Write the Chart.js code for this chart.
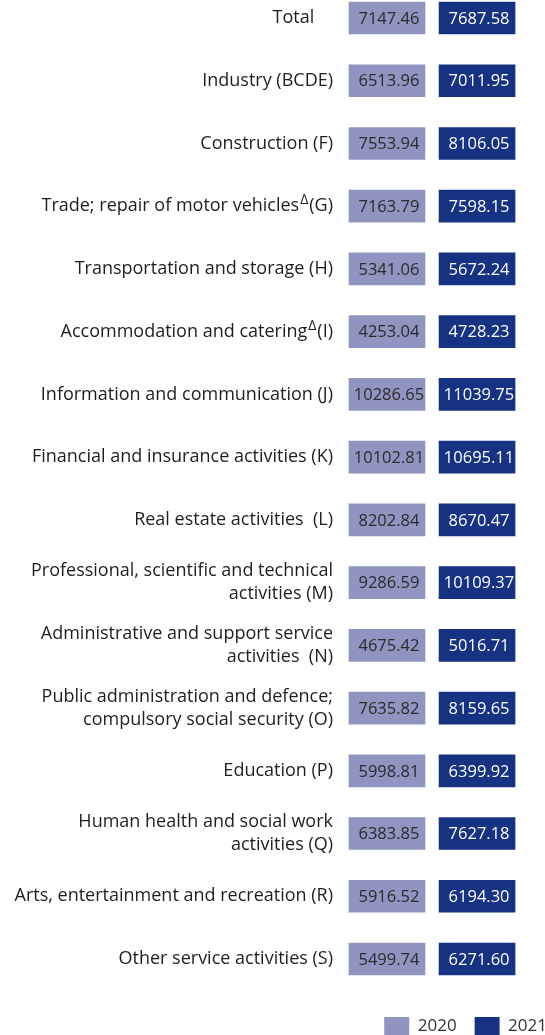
<!DOCTYPE html>
<html>
<head>
<meta charset="utf-8">
<title>Average monthly wages by sector</title>
<script src="https://cdn.jsdelivr.net/npm/chart.js@4.4.1/dist/chart.umd.min.js"></script>
<style>
  html, body { margin: 0; padding: 0; background: #fff; }
  #wrap { width: 545px; height: 1035px; position: relative; }
</style>
</head>
<body>
<div id="wrap"><canvas id="chart"></canvas></div>
<script>
// Kategorien (Zeilenumbrüche wie im Original)
const categories = [
  ['Total    '],
  ['Industry (BCDE)'],
  ['Construction (F)'],
  ['Trade; repair of motor vehicles\u0394(G)'],
  ['Transportation and storage (H)'],
  ['Accommodation and catering\u0394(I)'],
  ['Information and communication (J)'],
  ['Financial and insurance activities (K)'],
  ['Real estate activities  (L)'],
  ['Professional, scientific and technical', 'activities (M)'],
  ['Administrative and support service', 'activities  (N)'],
  ['Public administration and defence;', 'compulsory social security (O)'],
  ['Education (P)'],
  ['Human health and social work', 'activities (Q)'],
  ['Arts, entertainment and recreation (R)'],
  ['Other service activities (S)']
];

// Werte
const years = ['2020', '2021'];
const values2020 = [7147.46, 6513.96, 7553.94, 7163.79, 5341.06, 4253.04, 10286.65, 10102.81,
                    8202.84, 9286.59, 4675.42, 7635.82, 5998.81, 6383.85, 5916.52, 5499.74];
const values2021 = [7687.58, 7011.95, 8106.05, 7598.15, 5672.24, 4728.23, 11039.75, 10695.11,
                    8670.47, 10109.37, 5016.71, 8159.65, 6399.92, 7627.18, 6194.30, 6271.60];

// Farben
const color2020 = '#8f94c0';
const color2021 = '#163282';
const fontFamily = "'Open Sans', 'Noto Sans', sans-serif";

// Jede Zahl steht in einem gleich breiten Kasten (Tabellen-Stil)
const slot2020 = [0.118, 1.118];
const slot2021 = [1.303, 2.303];

// Plugin: Beschriftung der Zeilen (rechtsbündig, mit hochgestelltem Δ)
const rowLabels = {
  id: 'rowLabels',
  afterDraw(chart) {
    const ctx = chart.ctx;
    const yScale = chart.scales.y;
    const right = chart.chartArea.left - 7;
    const lineHeight = 22.7;
    const mainFont = '18px ' + fontFamily;
    const supFont = '14px ' + fontFamily;
    ctx.save();
    ctx.fillStyle = '#1e1e1e';
    ctx.textBaseline = 'middle';
    ctx.textAlign = 'left';
    categories.forEach((lines, i) => {
      const yc = yScale.getPixelForTick(i);
      lines.forEach((line, k) => {
        const y = yc + (k - (lines.length - 1) / 2) * lineHeight;
        const parts = line.split('\u0394');
        // Breite messen
        ctx.font = mainFont;
        let total = parts.reduce((s, p) => s + ctx.measureText(p).width, 0);
        ctx.font = supFont;
        const supW = ctx.measureText('\u0394').width + 2;
        total += (parts.length - 1) * supW;
        let x = right - total;
        parts.forEach((p, j) => {
          ctx.font = mainFont;
          ctx.fillText(p, x, y);
          x += ctx.measureText(p).width;
          if (j < parts.length - 1) {
            ctx.font = supFont;
            ctx.fillText('\u0394', x + 1, y - 6);
            x += supW;
          }
        });
      });
    });
    ctx.restore();
  }
};

// Plugin: Zahlen in die Kästen schreiben
const boxValues = {
  id: 'boxValues',
  afterDatasetsDraw(chart) {
    const ctx = chart.ctx;
    ctx.save();
    ctx.font = '16.5px ' + fontFamily;
    ctx.textAlign = 'center';
    ctx.textBaseline = 'middle';
    chart.data.datasets.forEach((ds, d) => {
      const meta = chart.getDatasetMeta(d);
      ctx.fillStyle = ds.valueColor;
      meta.data.forEach((bar, i) => {
        const cx = (bar.x + bar.base) / 2 + 2;
        ctx.fillText(ds.values[i].toFixed(2), cx, bar.y + 1);
      });
    });
    ctx.restore();
  }
};

new Chart(document.getElementById('chart'), {
  type: 'bar',
  data: {
    labels: categories.map(c => c.join(' ')),
    datasets: [
      {
        label: years[0],
        values: values2020,
        data: values2020.map(() => slot2020),
        backgroundColor: color2020,
        valueColor: '#2b2b2b',
        barThickness: 32,
        clip: false
      },
      {
        label: years[1],
        values: values2021,
        data: values2021.map(() => slot2021),
        backgroundColor: color2021,
        valueColor: '#ffffff',
        barThickness: 32,
        clip: false
      }
    ]
  },
  options: {
    indexAxis: 'y',
    responsive: true,
    maintainAspectRatio: false,
    animation: false,
    layout: { padding: { top: 18, right: -20, bottom: -11, left: 0 } },
    scales: {
      y: {
        type: 'category',
        stacked: true,
        offset: false,
        grid: { display: false },
        border: { display: false },
        ticks: { display: false },
        afterFit: scale => { scale.width = 340; }
      },
      x: {
        type: 'linear',
        min: 0,
        max: 2.697,
        grid: { display: false },
        border: { display: false },
        ticks: { display: false },
        afterFit: scale => { scale.height = 40; }
      }
    },
    plugins: {
      legend: {
        position: 'bottom',
        align: 'end',
        labels: {
          boxWidth: 25,
          boxHeight: 19,
          padding: 18,
          color: '#333',
          font: { family: fontFamily, size: 17 }
        }
      },
      tooltip: { enabled: false }
    }
  },
  plugins: [rowLabels, boxValues]
});
</script>
</body>
</html>
